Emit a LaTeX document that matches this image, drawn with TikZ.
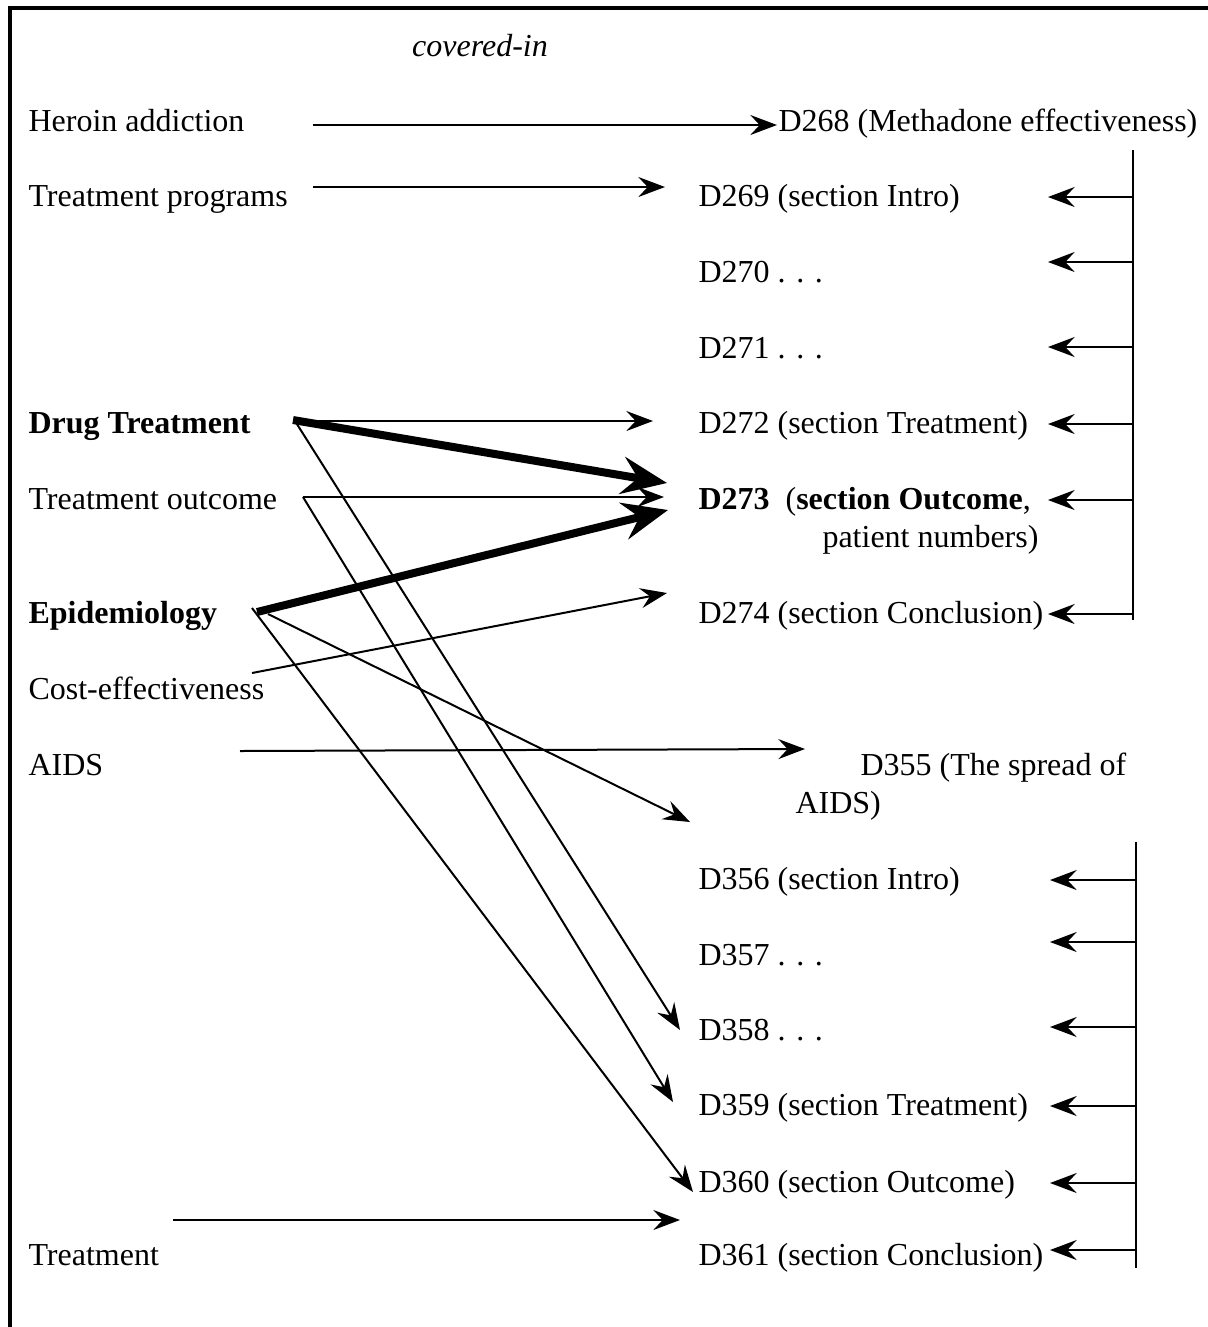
\documentclass[tikz,border=0pt]{standalone}
\usepackage{fontspec}
\setmainfont{Liberation Serif}
\usetikzlibrary{arrows.meta}
\begin{document}
\begin{tikzpicture}[x=0.375pt,y=-0.375pt,
  lbl/.style={anchor=base west,inner sep=0pt,font=\fontsize{12}{14.25}\selectfont},
  link/.style={line width=0.75pt,-{Stealth[length=10pt,width=7.5pt,inset=3.5pt]}},
  heavy/.style={line width=3pt,-{Stealth[length=17pt,width=14pt,inset=6pt]}},
  rail/.style={line width=0.8pt},
  railb/.style={line width=1.1pt},
  frameline/.style={line width=1.5pt}]
\useasboundingbox (0,0) rectangle (1208,1327);

% frame (top and left edges)
\coordinate (fa) at (1208,8);
\coordinate (fb) at (10,8);
\coordinate (fc) at (10,1327);
\draw[frameline] (fa) -- (fb) -- (fc);

% heading
\node[lbl,anchor=base] (cov) at (480,56) {\itshape covered-in};

% topic terms
\node[lbl] (heroin)  at (28,131)  {Heroin addiction};
\node[lbl] (tprog)   at (28,206)  {Treatment programs};
\node[lbl] (drug)    at (28,433)  {\bfseries Drug Treatment};
\node[lbl] (tout)    at (28,509)  {Treatment outcome};
\node[lbl] (epi)     at (28,623)  {\bfseries Epidemiology};
\node[lbl] (cost)    at (28,699)  {Cost-effectiveness};
\node[lbl] (aids)    at (28,775)  {AIDS};
\node[lbl] (treat)   at (28,1265) {Treatment};

% documents (multi-line labels are placed by the baseline of their last line)
\node[lbl] (d268) at (778,131) {D268 (Methadone effectiveness)};
\node[lbl] (d269) at (698,206) {D269 (section Intro)};
\node[lbl] (d270) at (698,282) {D270 . . .};
\node[lbl] (d271) at (698,358) {D271 . . .};
\node[lbl] (d272) at (698,433) {D272 (section Treatment)};
\node[lbl,align=left] (d273) at (698,547)
  {\textbf{D273}~ (\textbf{section Outcome},\\\hspace*{46.5pt}patient numbers)};
\node[lbl] (d274) at (698,623) {D274 (section Conclusion)};
\node[lbl,align=left] (d355) at (795,813)
  {\hspace*{24.4pt}D355 (The spread of\\AIDS)};
\node[lbl] (d356) at (698,889)  {D356 (section Intro)};
\node[lbl] (d357) at (698,965)  {D357 . . .};
\node[lbl] (d358) at (698,1040) {D358 . . .};
\node[lbl] (d359) at (698,1115) {D359 (section Treatment)};
\node[lbl] (d360) at (698,1192) {D360 (section Outcome)};
\node[lbl] (d361) at (698,1265) {D361 (section Conclusion)};

% connector end points
\coordinate (heroin-o) at (313,125);  \coordinate (d268-i) at (777,125);
\coordinate (tprog-o)  at (313,187);  \coordinate (d269-i) at (665,187);
\coordinate (drug-o)   at (295,421);  \coordinate (d272-i) at (653,421);
\coordinate (drug-h)   at (293,420);  \coordinate (d273-a) at (667,483);
\coordinate (tout-o)   at (303,497);  \coordinate (d273-b) at (664,497);
\coordinate (epi-h)    at (257,612);  \coordinate (d273-c) at (668,510);
\coordinate (cost-o)   at (252,673);  \coordinate (d274-i) at (667,593);
\coordinate (aids-o)   at (240,751);  \coordinate (d355-a) at (805,749);
\coordinate (d358-i) at (680,1030);
\coordinate (d359-i) at (673,1102);
\coordinate (epi-o)    at (252,608);  \coordinate (d360-i) at (693,1192);
\coordinate (epi-p)    at (268,614);  \coordinate (d355-b) at (690,822);
\coordinate (treat-o)  at (173,1220); \coordinate (d361-i) at (680,1220);

% covered-in links
\draw[link]  (heroin-o) -- (d268-i);
\draw[link]  (tprog-o)  -- (d269-i);
\draw[link]  (drug-o)   -- (d272-i);
\draw[heavy] (drug-h)   -- (d273-a);
\draw[link]  (tout-o)   -- (d273-b);
\draw[heavy] (epi-h)    -- (d273-c);
\draw[link]  (cost-o)   -- (d274-i);
\draw[link]  (aids-o)   -- (d355-a);
\draw[link]  (drug-o)   -- (d358-i);
\draw[link]  (tout-o)   -- (d359-i);
\draw[link]  (epi-o)    -- (d360-i);
\draw[link]  (epi-p)    -- (d355-b);
\draw[link]  (treat-o)  -- (d361-i);

% part-of rail for D268
\coordinate (r1t) at (1133,150);
\coordinate (r1b) at (1133,620);
\draw[rail] (r1t) -- (r1b);
\foreach \y/\n in {197/a,262/b,347/c,424/d,500/e,614/f}{
  \coordinate (r1\n) at (1133,\y);
  \coordinate (s1\n) at (1048,\y);
  \draw[link] (r1\n) -- (s1\n);
}

% part-of rail for D355
\coordinate (r2t) at (1136,842);
\coordinate (r2b) at (1136,1268);
\draw[railb] (r2t) -- (r2b);
\foreach \y/\n in {880/a,942/b,1027/c,1106/d,1183/e,1250/f}{
  \coordinate (r2\n) at (1136,\y);
  \coordinate (s2\n) at (1050,\y);
  \draw[link] (r2\n) -- (s2\n);
}
\end{tikzpicture}
\end{document}
